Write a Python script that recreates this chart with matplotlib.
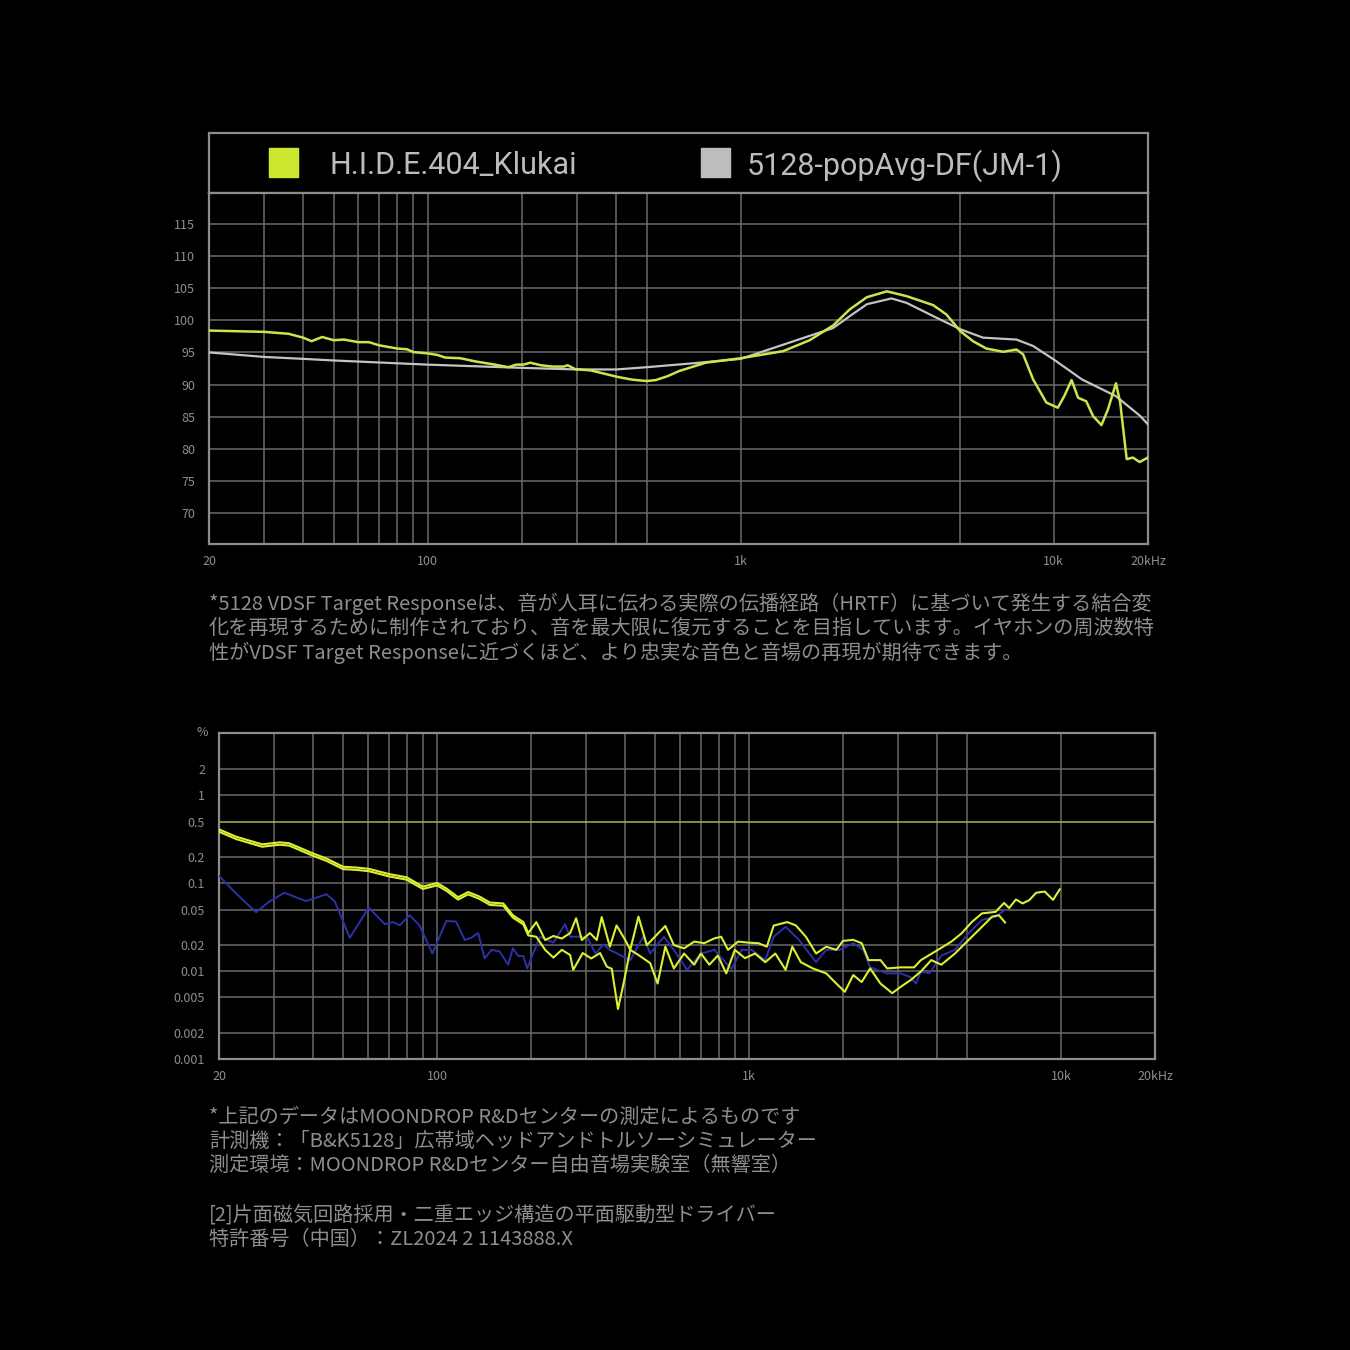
import matplotlib
matplotlib.use("Agg")
import matplotlib.pyplot as plt
from matplotlib.patches import Rectangle

plt.rcParams['font.family'] = ['Noto Sans CJK JP', 'DejaVu Sans']

# --- frequency response (top chart) ---
klukai_freq = [20, 30, 35.9, 40, 42.5, 46, 50, 54, 60, 64.8, 70, 80, 85.7, 90, 100, 107.5,
               113.7, 127, 142, 164, 181, 191.6, 202, 212.5, 230, 250, 272, 280, 296, 332,
               403, 452, 501, 535, 583, 635, 772, 1000, 1366, 1660, 1973, 2230, 2530, 2930,
               3390, 4120, 4540, 5030, 5520, 6090, 6890, 7600, 7980, 8590, 9470, 10300,
               10800, 11400, 11960, 12700, 13350, 14200, 14900, 15800, 16300, 17100, 17900,
               18800, 20000]
klukai_db = [98.4, 98.2, 97.9, 97.3, 96.75, 97.4, 96.9, 97.0, 96.6, 96.6, 96.1, 95.6, 95.5,
             95.05, 94.85, 94.6, 94.2, 94.1, 93.6, 93.1, 92.7, 93.1, 93.1, 93.4, 93.0, 92.8,
             92.8, 93.0, 92.4, 92.2, 91.2, 90.75, 90.55, 90.7, 91.3, 92.1, 93.4, 94.1, 95.2,
             96.9, 99.2, 101.7, 103.6, 104.5, 103.75, 102.35, 100.9, 98.3, 96.75, 95.6, 95.1,
             95.45, 94.7, 90.8, 87.2, 86.4, 88.2, 90.7, 87.95, 87.4, 85.1, 83.7, 86.15, 90.2,
             87.2, 78.4, 78.65, 77.95, 78.65]

target_freq = [20, 30, 40, 50, 100, 200, 300, 400, 500, 700, 1000, 1973, 2230, 2530, 3030,
               3390, 4120, 5030, 5940, 7600, 8590, 10000, 12300, 15800, 18900, 20000]
target_db = [95.0, 94.3, 94.0, 93.75, 93.1, 92.6, 92.35, 92.35, 92.7, 93.3, 94.0, 98.8,
             100.65, 102.5, 103.4, 102.7, 100.65, 98.6, 97.3, 97.0, 96.0, 93.9, 90.8, 88.2,
             85.1, 83.8]

legend_names = ["H.I.D.E.404_Klukai", "5128-popAvg-DF(JM-1)"]
db_ticks = [70, 75, 80, 85, 90, 95, 100, 105, 110, 115]
top_grid_x = [30, 40, 50, 60, 70, 80, 90, 100, 200, 300, 400, 500, 1000, 5000, 10000]

# --- THD (bottom chart) ---
thd_low_freq = [20, 22.7, 27.5, 31.3, 33.6, 40, 44.2, 50, 55.1, 60.4, 70.5, 80, 90, 100,
                107, 116.7, 125.8, 137, 147.6, 163, 175, 189, 196]
thd_low_val = [0.407, 0.336, 0.275, 0.29, 0.283, 0.217, 0.19, 0.153, 0.15, 0.145, 0.126,
               0.116, 0.091, 0.10, 0.087, 0.069, 0.079, 0.07, 0.06, 0.0586, 0.043, 0.036,
               0.027]

thd_a_freq = [208, 222, 236, 251, 267, 279, 291, 309, 325, 337, 358, 376, 401, 416, 442,
              470, 482, 507, 539, 574, 619, 667, 718, 774, 814, 856, 922, 994, 1071, 1140,
              1199, 1325, 1412, 1521, 1640, 1767, 1904, 2000, 2157, 2296, 2414, 2637, 2770,
              3060, 3381, 3555, 4030, 4452, 4798, 5173, 5577, 6166, 6566, 6818, 7165, 7529,
              7914, 8318, 8863, 9425, 9900]
thd_a_val = [0.036, 0.0225, 0.025, 0.0234, 0.027, 0.0398, 0.0225, 0.027, 0.0225, 0.041,
             0.0189, 0.033, 0.0225, 0.0174, 0.0415, 0.0197, 0.0216, 0.026, 0.0325, 0.0197,
             0.0181, 0.0216, 0.0207, 0.0235, 0.0245, 0.0174, 0.0216, 0.021, 0.0207, 0.0189,
             0.0328, 0.036, 0.033, 0.0245, 0.0158, 0.0189, 0.0174, 0.022, 0.0226, 0.0207,
             0.0133, 0.0133, 0.0107, 0.011, 0.011, 0.0133, 0.0174, 0.0216, 0.0268, 0.036,
             0.0452, 0.047, 0.0594, 0.052, 0.065, 0.0586, 0.064, 0.0775, 0.08, 0.0644, 0.0846]

thd_b_freq = [208, 222, 236, 251, 267, 273, 293, 312, 333, 350, 363, 380, 396, 416, 442,
              482, 509, 539, 574, 619, 667, 701, 746, 794, 845, 900, 970, 1045, 1127, 1214,
              1309, 1376, 1465, 1600, 1767, 1904, 2027, 2157, 2296, 2444, 2637, 2877, 3060,
              3296, 3555, 3836, 4133, 4569, 5050, 5577, 6011, 6320, 6614]
thd_b_val = [0.0245, 0.0174, 0.0142, 0.0174, 0.0152, 0.0103, 0.016, 0.0139, 0.016, 0.0112,
             0.0106, 0.0037, 0.0072, 0.0174, 0.0152, 0.0123, 0.0072, 0.0189, 0.0107, 0.0158,
             0.0118, 0.0158, 0.0118, 0.015, 0.0094, 0.0174, 0.014, 0.0158, 0.0126, 0.0158,
             0.0103, 0.0189, 0.0126, 0.0107, 0.0094, 0.0072, 0.0058, 0.009, 0.0075, 0.0107,
             0.0072, 0.0056, 0.0066, 0.0079, 0.0099, 0.0133, 0.0118, 0.0158, 0.0225, 0.0318,
             0.0415, 0.043, 0.0356]

thd_blue_freq = [20, 22.7, 26.3, 29, 32.4, 38, 44.2, 47, 52.5, 60.4, 68, 72.3, 75.9, 81.7,
                 87.9, 96.6, 107, 115, 122.7, 129, 135.5, 142, 149.5, 158.6, 169, 175, 182,
                 189, 194.5, 203, 214, 236, 257, 267, 302, 322, 341, 358, 416, 458, 482, 533,
                 574, 633, 701, 774, 878, 946, 1019, 1127, 1199, 1309, 1447, 1640, 1767,
                 1951, 2157, 2323, 2444, 2770, 3060, 3296, 3425, 3555, 3785, 4133, 4569,
                 5050, 5577, 6166, 6640]
thd_blue_val = [0.12, 0.076, 0.0465, 0.0617, 0.0775, 0.0623, 0.0745, 0.0617, 0.0239, 0.0525,
                0.0341, 0.036, 0.033, 0.0431, 0.0328, 0.0158, 0.037, 0.0365, 0.0225, 0.024,
                0.027, 0.0139, 0.0174, 0.0167, 0.0118, 0.0181, 0.0148, 0.0148, 0.0107,
                0.0158, 0.0245, 0.021, 0.034, 0.0245, 0.0245, 0.0158, 0.02, 0.0174, 0.0133,
                0.0245, 0.0158, 0.0245, 0.0174, 0.0103, 0.0158, 0.0174, 0.0105, 0.0174,
                0.0174, 0.0133, 0.0245, 0.0318, 0.0225, 0.0126, 0.0174, 0.0174, 0.0207,
                0.0174, 0.011, 0.0094, 0.0094, 0.0085, 0.0072, 0.0099, 0.0094, 0.015, 0.0174,
                0.0268, 0.038, 0.0415, 0.05]

thd_ticks = [0.001, 0.002, 0.005, 0.01, 0.02, 0.05, 0.1, 0.2, 0.5, 1, 2]
thd_tick_labels = ["0.001", "0.002", "0.005", "0.01", "0.02", "0.05", "0.1", "0.2", "0.5", "1", "2"]
bottom_grid_x = [30, 40, 50, 60, 70, 80, 90, 100, 200, 300, 400, 500, 600, 700, 800, 900,
                 1000, 2000, 3000, 4000, 5000, 10000]
freq_ticks = [20, 100, 1000, 10000, 20000]
freq_tick_labels = ["20", "100", "1k", "10k", "20kHz"]

note_top = [
    "*5128 VDSF Target Responseは、音が人耳に伝わる実際の伝播経路（HRTF）に基づいて発生する結合変",
    "化を再現するために制作されており、音を最大限に復元することを目指しています。イヤホンの周波数特",
    "性がVDSF Target Responseに近づくほど、より忠実な音色と音場の再現が期待できます。",
]
note_bottom = [
    "*上記のデータはMOONDROP R&Dセンターの測定によるものです",
    "計測機：「B&K5128」広帯域ヘッドアンドトルソーシミュレーター",
    "測定環境：MOONDROP R&Dセンター自由音場実験室（無響室）",
    "",
    "[2]片面磁気回路採用・二重エッジ構造の平面駆動型ドライバー",
    "特許番号（中国）：ZL2024 2 1143888.X",
]

BG = "black"
GRID = "#6a6a6a"
FRAME = "#8c8c8c"
TXT = "#8e8e8e"
LIME = "#cfe44c"
TARGET = "#c4c4c4"
YEL = "#dcef32"
BLUE = "#2a32a8"
W = H = 1350

fig = plt.figure(figsize=(13.5, 13.5), dpi=100, facecolor=BG)


def fig_rect(x0, y0, x1, y1):
    return [x0 / W, 1 - y1 / H, (x1 - x0) / W, (y1 - y0) / H]


def style_axes(ax):
    ax.set_facecolor(BG)
    for s in ax.spines.values():
        s.set_color(FRAME)
        s.set_linewidth(1.6)
    ax.tick_params(length=0, colors=TXT, labelsize=9)


# legend strip above the top chart
lg = fig.add_axes(fig_rect(209, 133, 1148, 193))
lg.set_xlim(209, 1148)
lg.set_ylim(193, 133)
lg.set_xticks([])
lg.set_yticks([])
style_axes(lg)
for xs, xt, col, name in [(269, 330, "#cde630", legend_names[0]), (701, 747, "#bdbdbd", legend_names[1])]:
    lg.add_patch(Rectangle((xs, 148), 29, 29, color=col))
    lg.text(xt, 166, name, color="#bcbcbc", fontsize=22, va="center", ha="left",
            family=['Roboto', 'DejaVu Sans'])

# top chart: frequency response
ax1 = fig.add_axes(fig_rect(209, 193, 1148, 544))
style_axes(ax1)
ax1.set_xscale("log")
ax1.set_xlim(20, 20000)
ax1.set_ylim(65.2, 119.8)
for f in top_grid_x:
    ax1.axvline(f, color=GRID, lw=1.1, zorder=1)
for d in db_ticks:
    ax1.axhline(d, color=GRID, lw=1.1, zorder=1)
ax1.plot(target_freq, target_db, color=TARGET, lw=1.6, zorder=3)
ax1.plot(klukai_freq, klukai_db, color=LIME, lw=1.8, zorder=4)
ax1.set_yticks(db_ticks)
ax1.set_yticklabels([str(d) for d in db_ticks])
ax1.set_xticks(freq_ticks)
ax1.set_xticklabels(freq_tick_labels)
ax1.minorticks_off()
ax1.tick_params(axis="y", pad=10)
ax1.tick_params(axis="x", pad=8)

# bottom chart: distortion
ax2 = fig.add_axes(fig_rect(219, 733, 1155, 1059))
style_axes(ax2)
ax2.set_xscale("log")
ax2.set_yscale("log")
ax2.set_xlim(20, 20000)
ax2.set_ylim(0.001, 5.07)
for f in bottom_grid_x:
    ax2.axvline(f, color=GRID, lw=1.1, zorder=1)
for v in thd_ticks[1:]:
    ax2.axhline(v, color="#a9b25a" if v == 0.5 else GRID, lw=1.1, zorder=1)
ax2.plot(thd_blue_freq, thd_blue_val, color=BLUE, lw=1.4, zorder=3)
ax2.plot(thd_low_freq + thd_a_freq, thd_low_val + thd_a_val, color=YEL, lw=1.5, zorder=4)
ax2.plot(thd_low_freq + thd_b_freq, [v * 0.94 for v in thd_low_val] + thd_b_val, color=YEL, lw=1.5, zorder=4)
ax2.set_yticks(thd_ticks)
ax2.set_yticklabels(thd_tick_labels)
ax2.set_xticks(freq_ticks)
ax2.set_xticklabels(freq_tick_labels)
ax2.minorticks_off()
ax2.tick_params(axis="y", pad=10)
ax2.tick_params(axis="x", pad=8)
ax2.text(-0.012, 1.0, "%", transform=ax2.transAxes, color=TXT, fontsize=9, ha="right", va="center")

# notes
for i, line in enumerate(note_top):
    fig.text(209 / W, 1 - (604 + 24.4 * i) / H, line, color=TXT, fontsize=14.5, va="center", ha="left")
for i, line in enumerate(note_bottom):
    if line:
        fig.text(209 / W, 1 - (1117 + 24.4 * i) / H, line, color=TXT, fontsize=14.5, va="center", ha="left")

fig.savefig("out.png", dpi=100, facecolor=BG)
